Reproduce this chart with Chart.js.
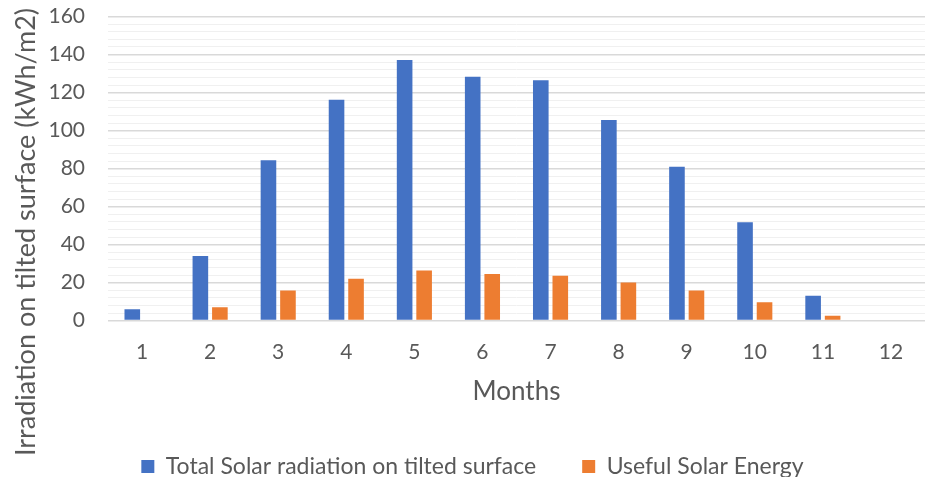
<!DOCTYPE html>
<html>
<head>
<meta charset="utf-8">
<script src="https://cdn.jsdelivr.net/npm/chart.js@4/dist/chart.umd.min.js"></script>
<style>
html,body{margin:0;padding:0;background:#fff;}
#wrap{width:925px;height:477px;position:relative;}
</style>
</head>
<body>
<div id="wrap"><canvas id="c" width="925" height="477"></canvas></div>
<script>
const months = ["1","2","3","4","5","6","7","8","9","10","11","12"];
const totalRadiation = [6, 34, 84.4, 116.3, 137.2, 128.3, 126.5, 105.6, 81, 51.7, 13.1, 0];
const usefulEnergy = [0, 7, 15.8, 22, 26.4, 24.5, 23.6, 20, 15.8, 9.6, 2.5, 0];
const seriesNames = ["Total Solar radiation on tilted surface", "Useful Solar Energy"];
const yTitle = "Irradiation on tilted surface (kWh/m2)";
const xTitle = "Months";

const FONT = "Lato, 'Open Sans', sans-serif";
const TXT = "#595959";

const yTitlePlugin = {
  id: 'yTitle',
  afterDraw(chart) {
    const ctx = chart.ctx;
    ctx.save();
    ctx.translate(26, 232);
    ctx.rotate(-Math.PI / 2);
    ctx.font = "27px " + FONT;
    ctx.fillStyle = TXT;
    ctx.textAlign = "center";
    ctx.textBaseline = "middle";
    ctx.fillText(yTitle, 0, 0);
    ctx.restore();
  }
};

new Chart(document.getElementById('c'), {
  type: 'bar',
  data: {
    labels: months,
    datasets: [
      { label: seriesNames[0], data: totalRadiation, backgroundColor: '#4472C4', barPercentage: 0.8, categoryPercentage: 0.573 },
      { label: seriesNames[1], data: usefulEnergy, backgroundColor: '#ED7D31', barPercentage: 0.8, categoryPercentage: 0.573 }
    ]
  },
  options: {
    responsive: false,
    animation: false,
    layout: { padding: { left: 20, right: 0, top: 0, bottom: -11 } },
    plugins: {
      tooltip: { enabled: false },
      legend: {
        position: 'bottom',
        labels: {
          font: { size: 23, family: FONT },
          color: TXT,
          boxWidth: 13,
          boxHeight: 13,
          padding: 46,
          useBorderRadius: false
        }
      }
    },
    scales: {
      x: {
        grid: { display: false },
        border: { display: false },
        ticks: { color: TXT, font: { size: 21, family: FONT }, padding: 11 },
        title: { display: true, text: xTitle, color: TXT, font: { size: 26, family: FONT }, padding: { top: 0, bottom: 2 } }
      },
      y: {
        min: 0,
        max: 160,
        border: { display: false },
        afterFit(scale) { scale.width = 88; },
        grid: {
          color: (c) => (c.tick && c.tick.value % 20 === 0) ? '#d9d9d9' : '#f0f0f0',
          lineWidth: (c) => (c.tick && c.tick.value % 20 === 0) ? 1.5 : 1,
          drawTicks: true,
          tickLength: 19,
          tickColor: 'rgba(0,0,0,0)'
        },
        ticks: {
          stepSize: 4,
          autoSkip: false,
          color: TXT,
          font: { size: 21, family: FONT },
          padding: 4,
          callback: (v) => (v % 20 === 0 ? v : '')
        }
      }
    }
  },
  plugins: [yTitlePlugin]
});
</script>
</body>
</html>
